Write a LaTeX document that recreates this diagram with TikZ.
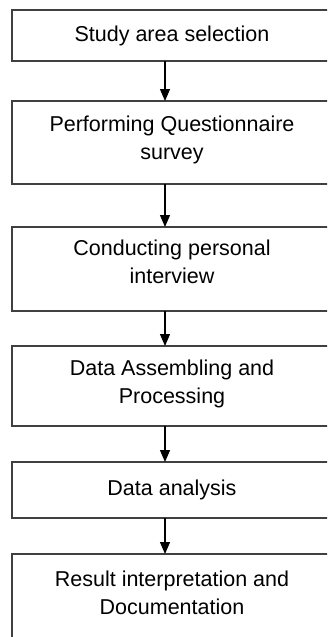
\documentclass[tikz,border=0pt]{standalone}
\usepackage{fontspec}
\setmainfont{Liberation Sans}
\usetikzlibrary{positioning,arrows.meta}
\definecolor{boxgray}{HTML}{404040}

\begin{document}
\begin{tikzpicture}[x=1pt,y=-1pt,>={Triangle[length=12pt,width=10pt]},
  stage/.style={draw=boxgray,line width=1.5pt,rectangle,minimum width=320pt,align=center,
    font=\fontsize{21.5}{28}\selectfont,inner sep=0pt,outer sep=0pt}]
\clip (0,0) rectangle (327,637);

\node[stage,minimum height=51pt] (select) at (172,35.5) {Study area selection};
\node[stage,minimum height=83pt,text depth=10.5pt,below=40pt of select] (survey) {Performing Questionnaire\\survey};
\node[stage,minimum height=84pt,text depth=14pt,below=43pt of survey] (interview) {Conducting personal\\interview};
\node[stage,minimum height=80pt,text depth=9.5pt,below=35pt of interview] (process) {Data Assembling and\\Processing};
\node[stage,minimum height=56pt,below=36pt of process] (analysis) {Data analysis};
\node[stage,minimum height=84pt,text depth=7pt,below=36pt of analysis] (result) {Result interpretation and\\Documentation};

\foreach \a/\b in {select/survey,survey/interview,interview/process,process/analysis,analysis/result}
  \draw[->,line width=1.3pt] ([xshift=-7pt]\a.south) -- ([xshift=-7pt]\b.north);
\end{tikzpicture}
\end{document}
